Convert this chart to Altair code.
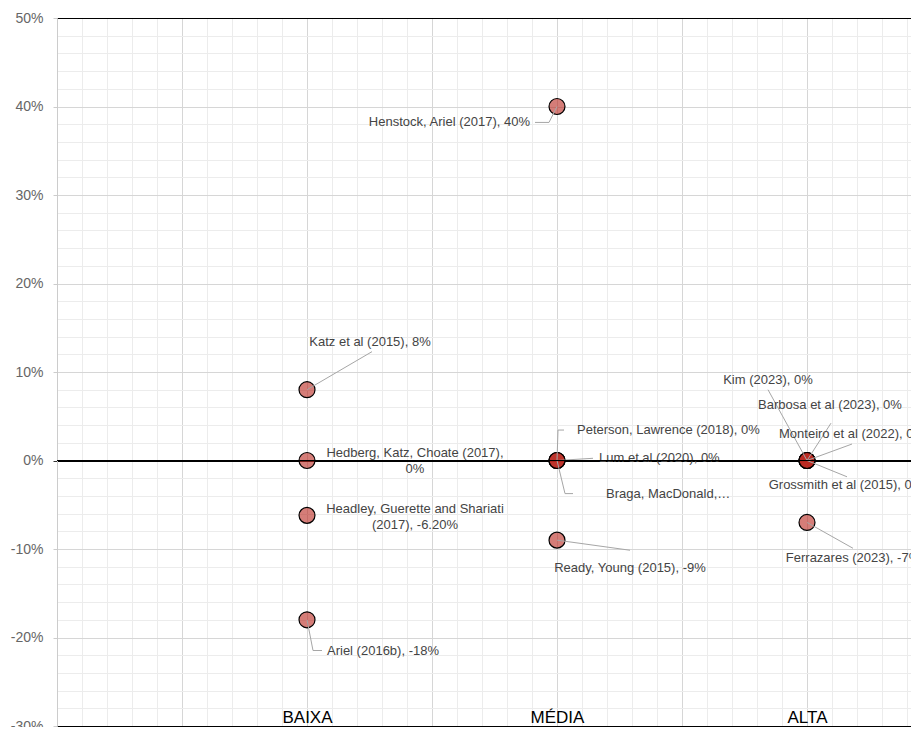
import altair as alt
import pandas as pd

# ---------------- data ----------------
categories = ["BAIXA", "MÉDIA", "ALTA"]
studies = [
    "Katz et al (2015)", "Hedberg, Katz, Choate (2017)",
    "Headley, Guerette and Shariati (2017)", "Ariel (2016b)",
    "Henstock, Ariel (2017)", "Peterson, Lawrence (2018)", "Lum et al (2020)",
    "Braga, MacDonald", "Ready, Young (2015)",
    "Kim (2023)", "Barbosa et al (2023)", "Monteiro et al (2022)",
    "Grossmith et al (2015)", "Ferrazares (2023)",
]
study_category = ["BAIXA"] * 4 + ["MÉDIA"] * 5 + ["ALTA"] * 5
effect_pct = [8, 0, -6.2, -18, 40, 0, 0, 0, -9, 0, 0, 0, 0, -7]
label_text = [
    "Katz et al (2015), 8%", "Hedberg, Katz, Choate (2017),\n0%",
    "Headley, Guerette and Shariati\n(2017), -6.20%", "Ariel (2016b), -18%",
    "Henstock, Ariel (2017), 40%", "Peterson, Lawrence (2018), 0%",
    "Lum et al (2020), 0%", "Braga, MacDonald,…", "Ready, Young (2015), -9%",
    "Kim (2023), 0%", "Barbosa et al (2023), 0%", "Monteiro et al (2022), 0%",
    "Grossmith et al (2015), 0%", "Ferrazares (2023), -7%",
]

# ---------------- annotation layout (offsets from the point) ----------------
# dx in category units, dy in percentage points
label_dx = [0.252, 0.432, 0.432, 0.08, -0.108, 0.08, 0.168, 0.196, 0.292,
            -0.156, 0.092, 0.18, 0.156, 0.184]
label_dy = [5.4, 0.86, 0.77, -3.47, -1.8, 3.44, 0.25, -3.74, -3.16,
            9.05, 6.24, 2.99, -2.73, -4.04]
label_align = ["center", "center", "center", "left", "right", "left", "left",
               "left", "center", "center", "center", "center", "center", "center"]
# leader line: optional elbow, then end (None = no leader)
elbow_dx = [None, None, None, 0.024, -0.032, 0.004, None, 0.032, None,
            None, None, None, None, None]
elbow_dy = [None, None, None, -3.47, -1.8, 3.44, None, -3.74, None,
            None, None, None, None, None]
end_dx = [0.26, None, None, 0.06, -0.088, 0.028, 0.144, 0.064, 0.292,
          -0.156, 0.096, 0.18, 0.16, 0.184]
end_dy = [4.3, None, None, -3.47, -1.8, 3.44, 0.25, -3.74, -1.14,
          8.0, 4.22, 1.86, -1.84, -2.92]

PLOT_W = 854
X_MAX = PLOT_W / 250
FONT = "Liberation Sans"

# ---------------- tables ----------------
cat_pos = {c: i + 1 for i, c in enumerate(categories)}
pts = pd.DataFrame({
    "study": studies,
    "x": [cat_pos[c] for c in study_category],
    "y": [v / 100 for v in effect_pct],
})
labels = pd.DataFrame({
    "study": studies,
    "text": label_text,
    "align": label_align,
    "x": [cat_pos[c] + d for c, d in zip(study_category, label_dx)],
    "y": [(v + d) / 100 for v, d in zip(effect_pct, label_dy)],
})
rows = []
for i, s in enumerate(studies):
    if end_dx[i] is None:
        continue
    px, py = cat_pos[study_category[i]], effect_pct[i]
    path = [(px, py)]
    if elbow_dx[i] is not None:
        path.append((px + elbow_dx[i], py + elbow_dy[i]))
    path.append((px + end_dx[i], py + end_dy[i]))
    for k, (a, b) in enumerate(path):
        rows.append({"study": s, "order": k, "x": a, "y": b / 100})
leaders = pd.DataFrame(rows)

# ---------------- scales / axes ----------------
x_vals = [round(i * 0.1, 1) for i in range(35)]
y_vals = [round(-0.3 + i * 0.02, 2) for i in range(41)]

lab_expr = " : ".join(
    f"abs(datum.value - {i + 1}) < 0.001 ? '{c}'" for i, c in enumerate(categories)
) + " : ''"

x_axis = alt.Axis(
    values=x_vals, tickCount=500, title=None, ticks=False, grid=True,
    gridColor={"condition": {"test": "abs(datum.value*2 - round(datum.value*2)) < 0.001",
                             "value": "#d6d6d6"}, "value": "#ececec"},
    labelExpr=lab_expr, labelPadding=-17, labelFontSize=17, labelColor="#000000",
    labelFont=FONT, labelOverlap=False, labelFlush=False,
    domainColor="#000000", domainWidth=1,
)
major_y = "abs(datum.value*10 - round(datum.value*10)) < 0.001"
y_axis = alt.Axis(
    values=y_vals, tickCount=500, title=None, grid=True,
    gridColor={"condition": [
        {"test": "abs(datum.value) < 0.001 || datum.value > 0.499", "value": "#000000"},
        {"test": major_y, "value": "#d6d6d6"}], "value": "#ececec"},
    tickSize=4,
    tickColor={"condition": [
        {"test": "abs(datum.value) < 0.001", "value": "#333333"},
        {"test": major_y, "value": "#cccccc"}], "value": "transparent"},
    labelExpr=f"{major_y} ? toString(round(datum.value*100)) + '%' : ''",
    labelPadding=10, labelFontSize=14, labelColor="#666666", labelFont=FONT,
    labelOverlap=False, domainColor="#cccccc",
)
xs = alt.Scale(domain=[0, X_MAX], nice=False, zero=False)
ys = alt.Scale(domain=[-0.3, 0.5], nice=False, zero=False)

points = alt.Chart(pts).mark_circle(
    size=255, fill="#b9261e", fillOpacity=0.6, stroke="#000000", strokeWidth=1.2, opacity=1
).encode(
    x=alt.X("x:Q", scale=xs, axis=x_axis),
    y=alt.Y("y:Q", scale=ys, axis=y_axis),
)
lead = alt.Chart(leaders).mark_line(color="#a6a6a6", strokeWidth=1).encode(
    x=alt.X("x:Q", scale=xs), y=alt.Y("y:Q", scale=ys),
    detail="study:N", order="order:Q",
)
text_layers = []
for al in ["left", "center", "right"]:
    text_layers.append(
        alt.Chart(labels).transform_filter(alt.datum.align == al).mark_text(
            align=al, baseline="middle", fontSize=13, font=FONT, color="#444444",
            lineBreak="\n", lineHeight=16,
        ).encode(x=alt.X("x:Q", scale=xs), y=alt.Y("y:Q", scale=ys), text="text:N")
    )
zero = alt.Chart(pts).mark_rule(color="#000000", strokeWidth=1.2).encode(
    y=alt.datum(0)
)

chart = alt.layer(points, lead, *text_layers, zero).properties(
    width=PLOT_W, height=708,
    autosize=alt.AutoSizeParams(type="none"),
    padding={"left": 49, "top": 10, "right": 0, "bottom": 1},
).configure_view(stroke=None).configure(background="white")

chart.save("out.html", embed_options={"renderer": "svg", "actions": False})
